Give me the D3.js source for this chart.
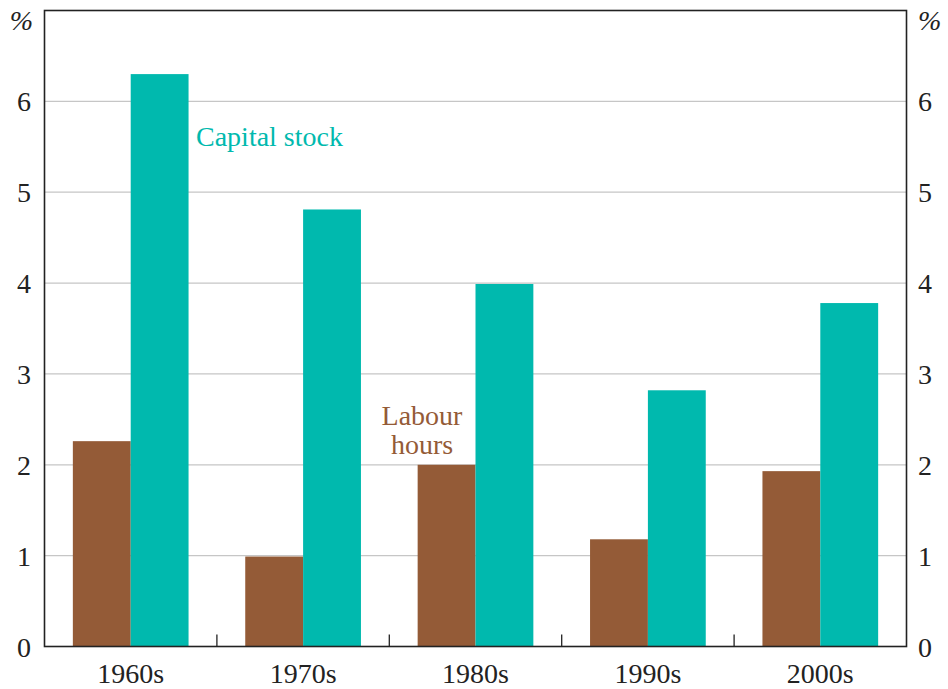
<!DOCTYPE html>
<html>
<head>
<meta charset="utf-8">
<script src="https://cdn.jsdelivr.net/npm/d3@7"></script>
<style>
  body { margin: 0; background: #fff; }
  text { font-family: "Liberation Serif", "Times New Roman", serif; fill: #222; }
</style>
</head>
<body>
<svg id="mainSvg" width="948" height="689"></svg>
<script>
let svg = d3.select('#mainSvg');

// data
const decades = ["1960s", "1970s", "1980s", "1990s", "2000s"];
const labourHours = [2.26, 0.99, 2.0, 1.18, 1.93];
const capitalStock = [6.3, 4.81, 3.99, 2.82, 3.78];
const yTicks = [0, 1, 2, 3, 4, 5, 6];

const brown = "#945b37", teal = "#00b9ae";
const plotL = 44.5, plotR = 906.5, plotT = 10.5, plotB = 646.5;

const x = d3.scaleBand().domain(decades).range([plotL, plotR]);
const inner = d3.scaleBand().domain(["labour", "capital"])
    .range([0, x.bandwidth()]).paddingOuter(0.49).paddingInner(0);
const y = d3.scaleLinear().domain([0, 7]).range([plotB, plotT]);

// gridlines
svg.append("g").selectAll("line").data(yTicks.filter(d => d > 0)).join("line")
    .attr("x1", plotL).attr("x2", plotR)
    .attr("y1", d => y(d)).attr("y2", d => y(d))
    .attr("stroke", "#c6c6c6").attr("stroke-width", 1.3);

// bars
const groups = svg.append("g").selectAll("g").data(decades).join("g")
    .attr("transform", d => `translate(${x(d)},0)`);
groups.append("rect")
    .attr("x", inner("labour")).attr("width", inner.bandwidth())
    .attr("y", (d, i) => y(labourHours[i]))
    .attr("height", (d, i) => y(0) - y(labourHours[i]))
    .attr("fill", brown);
groups.append("rect")
    .attr("x", inner("capital")).attr("width", inner.bandwidth())
    .attr("y", (d, i) => y(capitalStock[i]))
    .attr("height", (d, i) => y(0) - y(capitalStock[i]))
    .attr("fill", teal);

// frame
svg.append("rect")
    .attr("x", plotL).attr("y", plotT)
    .attr("width", plotR - plotL).attr("height", plotB - plotT)
    .attr("fill", "none").attr("stroke", "#222").attr("stroke-width", 1.6);

// category separators
svg.append("g").selectAll("line").data(decades.slice(1)).join("line")
    .attr("x1", d => x(d)).attr("x2", d => x(d))
    .attr("y1", plotB).attr("y2", plotB - 12)
    .attr("stroke", "#222").attr("stroke-width", 1.3);

// y axis labels, both sides
const fs = 28;
svg.append("g").selectAll("text").data(yTicks).join("text")
    .attr("x", 31).attr("y", d => y(d) + 10)
    .attr("text-anchor", "end").attr("font-size", fs)
    .text(d => d);
svg.append("g").selectAll("text").data(yTicks).join("text")
    .attr("x", 918).attr("y", d => y(d) + 10)
    .attr("text-anchor", "start").attr("font-size", fs)
    .text(d => d);
svg.append("text").attr("x", 33).attr("y", 30).attr("text-anchor", "end")
    .attr("font-size", fs).attr("font-style", "italic").text("%");
svg.append("text").attr("x", 918).attr("y", 30).attr("text-anchor", "start")
    .attr("font-size", fs).attr("font-style", "italic").text("%");

// x labels
svg.append("g").selectAll("text").data(decades).join("text")
    .attr("x", d => x(d) + x.bandwidth() / 2).attr("y", 683)
    .attr("text-anchor", "middle").attr("font-size", fs)
    .text(d => d);

// series labels
svg.append("text").attr("x", 196).attr("y", 146)
    .attr("font-size", fs).style("fill", teal).text("Capital stock");
const lab = svg.append("text").attr("text-anchor", "middle")
    .attr("font-size", fs).style("fill", brown);
lab.append("tspan").attr("x", 422).attr("y", 425).text("Labour");
lab.append("tspan").attr("x", 422).attr("y", 454).text("hours");
</script>
</body>
</html>
